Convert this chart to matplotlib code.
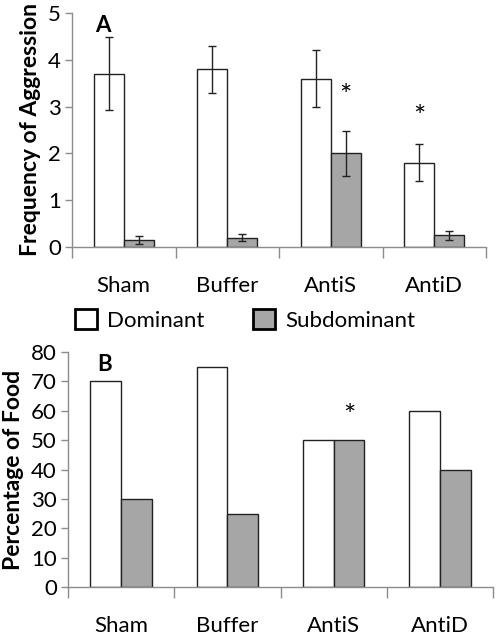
import matplotlib
matplotlib.use("Agg")
import matplotlib.pyplot as plt
import numpy as np
from matplotlib.patches import Patch

categories = ["Sham", "Buffer", "AntiS", "AntiD"]
agg_dom = [3.7, 3.8, 3.6, 1.8]
agg_dom_err = [0.78, 0.5, 0.6, 0.4]
agg_sub = [0.15, 0.2, 2.0, 0.25]
agg_sub_err = [0.08, 0.08, 0.48, 0.1]
food_dom = [70, 75, 50, 60]
food_sub = [30, 25, 50, 40]
# significance stars: (category index, series offset, y)
stars_a = [(2, +1, 3.2), (3, -1, 2.75)]
stars_b = [(2, +1, 58)]

plt.rcParams['font.family'] = ['Lato', 'DejaVu Sans']
W, H = 498, 638
fig = plt.figure(figsize=(W / 100, H / 100), dpi=100)

sub_color = "#a6a6a6"
axis_color = "#8c8c8c"
bw = 0.29
x = np.arange(len(categories))


def style(ax, ymax, ystep):
    for s in ["top", "right"]:
        ax.spines[s].set_visible(False)
    for s in ["left", "bottom"]:
        ax.spines[s].set_color(axis_color)
        ax.spines[s].set_linewidth(1.0)
    ax.set_xlim(-0.5, len(categories) - 0.5)
    ax.set_ylim(0, ymax)
    ax.set_yticks(np.arange(0, ymax + 0.01, ystep))
    ax.set_xticks(x)
    ax.set_xticklabels(categories)
    ax.set_xticks(np.arange(-0.5, len(categories)), minor=True)
    ax.tick_params(axis="x", which="major", length=0, pad=21, labelsize=16)
    ax.tick_params(axis="x", which="minor", length=8, color=axis_color, width=1)
    ax.tick_params(axis="y", length=5, color=axis_color, width=1, labelsize=16, pad=3)


# Panel A
axA = fig.add_axes([72 / W, (H - 247) / H, (486 - 72) / W, (247 - 13) / H])
axA.bar(x - bw / 2, agg_dom, bw, color="white", edgecolor="#222222", linewidth=1.0,
        yerr=agg_dom_err, error_kw=dict(ecolor="#222222", elinewidth=1.0, capsize=3, capthick=1.0))
axA.bar(x + bw / 2, agg_sub, bw, color=sub_color, edgecolor="#222222", linewidth=1.0,
        yerr=agg_sub_err, error_kw=dict(ecolor="#222222", elinewidth=1.0, capsize=3, capthick=1.0))
style(axA, 5, 1)
axA.set_ylabel("Frequency of Aggression", fontsize=16.5, fontweight="bold", labelpad=5)
axA.text(0.075, 0.99, "A", transform=axA.transAxes, fontsize=16, fontweight="bold", va="top", ha="center")
for i, side, yv in stars_a:
    axA.text(x[i] + side * bw / 2, yv, "*", ha="center", va="center", fontsize=21)

# Panel B
axB = fig.add_axes([68 / W, (H - 587) / H, (493 - 68) / W, (587 - 352) / H])
axB.bar(x - bw / 2, food_dom, bw, color="white", edgecolor="#222222", linewidth=1.0)
axB.bar(x + bw / 2, food_sub, bw, color=sub_color, edgecolor="#222222", linewidth=1.0)
style(axB, 80, 10)
axB.set_ylabel("Percentage of Food", fontsize=16.5, fontweight="bold", labelpad=5)
axB.text(0.085, 0.99, "B", transform=axB.transAxes, fontsize=16, fontweight="bold", va="top", ha="center")
for i, side, yv in stars_b:
    axB.text(x[i] + side * bw / 2, yv, "*", ha="center", va="center", fontsize=21)

handles = [Patch(facecolor="white", edgecolor="black", linewidth=2.0, label="Dominant"),
           Patch(facecolor=sub_color, edgecolor="black", linewidth=2.0, label="Subdominant")]
fig.legend(handles=handles, loc="center", bbox_to_anchor=(245 / W, (H - 320) / H), ncol=2,
           frameon=False, fontsize=16, handlelength=1.0, handleheight=1.0, handletextpad=0.45,
           columnspacing=2.2)

fig.savefig("out.png", dpi=100)
